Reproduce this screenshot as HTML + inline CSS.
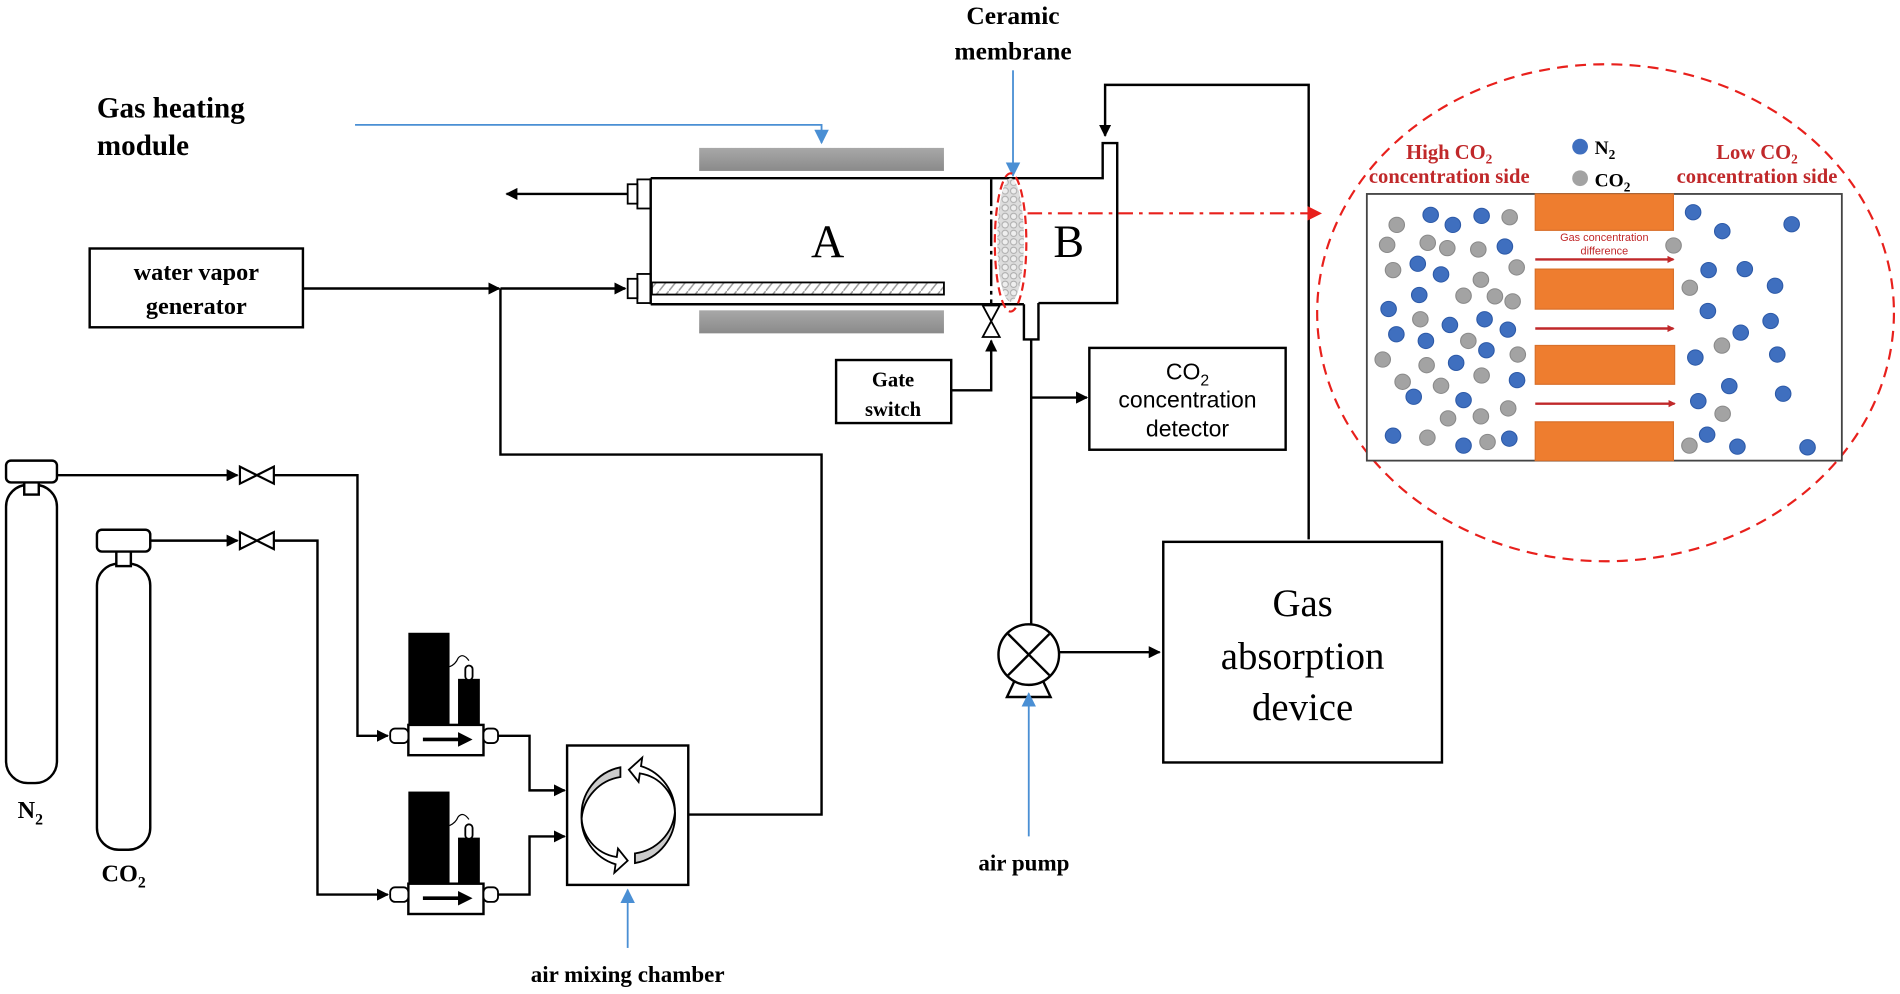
<!DOCTYPE html>
<html><head><meta charset="utf-8"><style>
html,body{margin:0;padding:0;background:#fff}
svg{display:block}
.sb{font-family:"Liberation Serif",serif;font-weight:bold;fill:#000}
</style></head><body>
<svg width="1900" height="994" viewBox="0 0 1568 820" preserveAspectRatio="none" xmlns="http://www.w3.org/2000/svg">
<defs>
<marker id="ak" markerWidth="10" markerHeight="10" refX="9" refY="5" orient="auto" markerUnits="userSpaceOnUse"><path d="M0,0 L10,5 L0,10 z" fill="#000"/></marker>
<marker id="ab" markerWidth="12" markerHeight="12" refX="11" refY="6" orient="auto" markerUnits="userSpaceOnUse"><path d="M0,0 L12,6 L0,12 z" fill="#4a8fd4"/></marker>
<marker id="ar" markerWidth="12" markerHeight="12" refX="11" refY="6" orient="auto" markerUnits="userSpaceOnUse"><path d="M0,0 L12,6 L0,12 z" fill="#e8201c"/></marker>
<marker id="ar2" markerWidth="6" markerHeight="6" refX="5" refY="3" orient="auto" markerUnits="userSpaceOnUse"><path d="M0,0 L6,3 L0,6 z" fill="#c0282a"/></marker>
<pattern id="hatch" width="8" height="10" patternUnits="userSpaceOnUse"><rect width="8" height="10" fill="#fff"/><path d="M0,10 L8,0" stroke="#999" stroke-width="1.2"/></pattern>
<pattern id="dots" width="7" height="7" patternUnits="userSpaceOnUse"><rect width="7" height="7" fill="#ddd"/><circle cx="3.5" cy="3.5" r="2.6" fill="#eee" stroke="#aaa" stroke-width="0.8"/></pattern>
<linearGradient id="gr" x1="0" y1="0" x2="0" y2="1"><stop offset="0" stop-color="#a8a8a8"/><stop offset="1" stop-color="#8a8a8a"/></linearGradient>
</defs>

<!-- labels -->
<text class="sb" x="80" y="97" font-size="24">Gas heating</text>
<text class="sb" x="80" y="128" font-size="24">module</text>
<polyline points="293,103 678,103 678,118" fill="none" stroke="#4a8fd4" stroke-width="1.5" marker-end="url(#ab)"/>
<text class="sb" x="836" y="20" font-size="21" text-anchor="middle">Ceramic</text>
<text class="sb" x="836" y="49" font-size="21" text-anchor="middle">membrane</text>
<line x1="836" y1="58" x2="836" y2="145" stroke="#4a8fd4" stroke-width="1.5" marker-end="url(#ab)"/>

<!-- heaters -->
<rect x="577" y="122" width="202" height="19" fill="url(#gr)"/>
<rect x="577" y="256" width="202" height="19" fill="url(#gr)"/>

<!-- reactor -->
<g stroke="#000" stroke-width="2" fill="none">
<polyline points="537,147 910,147 910,118 922,118 922,147 922,250 857,250"/>
<line x1="537" y1="147" x2="537" y2="251"/>
<line x1="537" y1="251" x2="845" y2="251"/>
<polyline points="845,251 845,280 857,280 857,250"/>
<line x1="818" y1="148" x2="818" y2="250" stroke-dasharray="22,4,3,4"/>
<rect x="518" y="152" width="8" height="16" stroke-width="1.5"/>
<rect x="526" y="148" width="11" height="24" stroke-width="1.5"/>
<rect x="518" y="230" width="8" height="16" stroke-width="1.5"/>
<rect x="526" y="226" width="11" height="24" stroke-width="1.5"/>
</g>
<rect x="538" y="233" width="241" height="10" fill="url(#hatch)" stroke="#000" stroke-width="1.5"/>
<ellipse cx="834" cy="198" rx="11" ry="51" fill="url(#dots)"/>
<ellipse cx="834" cy="200" rx="13" ry="57" fill="none" stroke="#e8201c" stroke-width="1.8" stroke-dasharray="7,4"/>
<text x="683" y="212" font-family="Liberation Serif,serif" font-size="38" text-anchor="middle">A</text>
<text x="882" y="212" font-family="Liberation Serif,serif" font-size="38" text-anchor="middle">B</text>
<line x1="518" y1="160" x2="418" y2="160" stroke="#000" stroke-width="2" marker-end="url(#ak)"/>
<!-- return line from absorption -->
<polyline points="1080,445 1080,70 912,70 912,112" fill="none" stroke="#000" stroke-width="2" marker-end="url(#ak)"/>

<!-- valve below membrane -->
<path d="M811,252 L825,252 L811,278 L825,278 Z" fill="#fff" stroke="#000" stroke-width="1.5"/>
<rect x="690" y="297" width="95" height="52" fill="#fff" stroke="#000" stroke-width="2"/>
<text class="sb" x="737" y="319" font-size="17" text-anchor="middle">Gate</text>
<text class="sb" x="737" y="343" font-size="17" text-anchor="middle">switch</text>
<polyline points="785,322 818,322 818,281" fill="none" stroke="#000" stroke-width="2" marker-end="url(#ak)"/>

<!-- water vapor -->
<rect x="74" y="205" width="176" height="65" fill="#fff" stroke="#000" stroke-width="2"/>
<text class="sb" x="162" y="231" font-size="20" text-anchor="middle">water vapor</text>
<text class="sb" x="162" y="259" font-size="20" text-anchor="middle">generator</text>
<line x1="250" y1="238" x2="412" y2="238" stroke="#000" stroke-width="2" marker-end="url(#ak)"/>
<line x1="413" y1="238" x2="516" y2="238" stroke="#000" stroke-width="2" marker-end="url(#ak)"/>
<polyline points="413,238 413,375 678,375 678,672 568,672" fill="none" stroke="#000" stroke-width="2"/>

<!-- detector line -->
<line x1="851" y1="280" x2="851" y2="515" stroke="#000" stroke-width="2"/>
<line x1="851" y1="328" x2="897" y2="328" stroke="#000" stroke-width="2" marker-end="url(#ak)"/>
<rect x="899" y="287" width="162" height="84" fill="#fff" stroke="#000" stroke-width="2"/>
<text x="980" y="313" font-family="Liberation Sans,sans-serif" font-size="19" text-anchor="middle">CO<tspan font-size="13" dy="5">2</tspan></text>
<text x="980" y="336" font-family="Liberation Sans,sans-serif" font-size="19" text-anchor="middle">concentration</text>
<text x="980" y="360" font-family="Liberation Sans,sans-serif" font-size="19" text-anchor="middle">detector</text>

<!-- pump -->
<path d="M831,575 L839,558 L859,558 L867,575 Z" fill="#fff" stroke="#000" stroke-width="2"/>
<circle cx="849" cy="540" r="25" fill="#fff" stroke="#000" stroke-width="2"/>
<line x1="832" y1="523" x2="866" y2="557" stroke="#000" stroke-width="2"/>
<line x1="866" y1="523" x2="832" y2="557" stroke="#000" stroke-width="2"/>
<line x1="874" y1="538" x2="957" y2="538" stroke="#000" stroke-width="2" marker-end="url(#ak)"/>
<line x1="849" y1="690" x2="849" y2="572" stroke="#4a8fd4" stroke-width="1.5" marker-end="url(#ab)"/>
<text class="sb" x="845" y="718" font-size="19" text-anchor="middle">air pump</text>
<rect x="960" y="447" width="230" height="182" fill="#fff" stroke="#000" stroke-width="2"/>
<text x="1075" y="508" font-family="Liberation Serif,serif" font-size="32" text-anchor="middle">Gas</text>
<text x="1075" y="552" font-family="Liberation Serif,serif" font-size="32" text-anchor="middle">absorption</text>
<text x="1075" y="594" font-family="Liberation Serif,serif" font-size="32" text-anchor="middle">device</text>

<!-- red dash-dot -->
<line x1="848" y1="176" x2="1090" y2="176" stroke="#e8201c" stroke-width="1.8" stroke-dasharray="12,5,3,5" marker-end="url(#ar)"/>
<ellipse cx="1325" cy="258" rx="238" ry="205" fill="none" stroke="#e8201c" stroke-width="1.8" stroke-dasharray="9,6"/>

<!-- inset -->
<rect x="1128" y="160" width="392" height="220" fill="#fff" stroke="#444" stroke-width="1.5"/>
<g fill="#ee7d2f" stroke="#d9702a" stroke-width="1">
<rect x="1267" y="160" width="114" height="30"/>
<rect x="1267" y="222" width="114" height="33"/>
<rect x="1267" y="285" width="115" height="32"/>
<rect x="1267" y="348" width="114" height="32"/>
</g>
<g stroke="#c0282a" stroke-width="2">
<line x1="1267" y1="214" x2="1381" y2="214" marker-end="url(#ar2)"/>
<line x1="1267" y1="271" x2="1381" y2="271" marker-end="url(#ar2)"/>
<line x1="1267" y1="333" x2="1382" y2="333" marker-end="url(#ar2)"/>
</g>
<text x="1324" y="199" font-family="Liberation Sans,sans-serif" font-size="9" fill="#c0282a" text-anchor="middle">Gas concentration</text>
<text x="1324" y="210" font-family="Liberation Sans,sans-serif" font-size="9" fill="#c0282a" text-anchor="middle">difference</text>
<g transform="translate(1128,160) scale(0.3046,0.2743) translate(-125,-220)">
<g fill="#3f6fbf" stroke="#2d5aa8" stroke-width="3">
<ellipse cx="298" cy="283" rx="21" ry="23"/><ellipse cx="358" cy="313" rx="21" ry="23"/><ellipse cx="436" cy="286" rx="21" ry="23"/><ellipse cx="499" cy="378" rx="21" ry="23"/><ellipse cx="263" cy="430" rx="21" ry="23"/><ellipse cx="326" cy="462" rx="21" ry="23"/><ellipse cx="267" cy="524" rx="21" ry="23"/><ellipse cx="184" cy="566" rx="21" ry="23"/><ellipse cx="350" cy="614" rx="21" ry="23"/><ellipse cx="444" cy="597" rx="21" ry="23"/><ellipse cx="507" cy="628" rx="21" ry="23"/><ellipse cx="205" cy="642" rx="21" ry="23"/><ellipse cx="285" cy="662" rx="21" ry="23"/><ellipse cx="449" cy="690" rx="21" ry="23"/><ellipse cx="367" cy="728" rx="21" ry="23"/><ellipse cx="532" cy="780" rx="21" ry="23"/><ellipse cx="252" cy="830" rx="21" ry="23"/><ellipse cx="387" cy="840" rx="21" ry="23"/><ellipse cx="196" cy="947" rx="21" ry="23"/><ellipse cx="387" cy="977" rx="21" ry="23"/><ellipse cx="511" cy="956" rx="21" ry="23"/>
<ellipse cx="1009" cy="275" rx="21" ry="23"/><ellipse cx="1088" cy="332" rx="21" ry="23"/><ellipse cx="1276" cy="311" rx="21" ry="23"/><ellipse cx="1051" cy="449" rx="21" ry="23"/><ellipse cx="1149" cy="446" rx="21" ry="23"/><ellipse cx="1231" cy="496" rx="21" ry="23"/><ellipse cx="1049" cy="572" rx="21" ry="23"/><ellipse cx="1219" cy="602" rx="21" ry="23"/><ellipse cx="1138" cy="637" rx="21" ry="23"/><ellipse cx="1015" cy="712" rx="21" ry="23"/><ellipse cx="1237" cy="703" rx="21" ry="23"/><ellipse cx="1107" cy="798" rx="21" ry="23"/><ellipse cx="1023" cy="843" rx="21" ry="23"/><ellipse cx="1253" cy="821" rx="21" ry="23"/><ellipse cx="1047" cy="944" rx="21" ry="23"/><ellipse cx="1129" cy="980" rx="21" ry="23"/><ellipse cx="1319" cy="982" rx="21" ry="23"/>
</g>
<g fill="#a3a3a3" stroke="#8a8a8a" stroke-width="3">
<ellipse cx="206" cy="313" rx="21" ry="23"/><ellipse cx="512" cy="290" rx="21" ry="23"/><ellipse cx="180" cy="373" rx="21" ry="23"/><ellipse cx="290" cy="367" rx="21" ry="23"/><ellipse cx="343" cy="383" rx="21" ry="23"/><ellipse cx="427" cy="387" rx="21" ry="23"/><ellipse cx="196" cy="449" rx="21" ry="23"/><ellipse cx="531" cy="441" rx="21" ry="23"/><ellipse cx="434" cy="478" rx="21" ry="23"/><ellipse cx="387" cy="526" rx="21" ry="23"/><ellipse cx="472" cy="528" rx="21" ry="23"/><ellipse cx="520" cy="543" rx="21" ry="23"/><ellipse cx="270" cy="597" rx="21" ry="23"/><ellipse cx="400" cy="662" rx="21" ry="23"/><ellipse cx="168" cy="718" rx="21" ry="23"/><ellipse cx="534" cy="703" rx="21" ry="23"/><ellipse cx="287" cy="735" rx="21" ry="23"/><ellipse cx="436" cy="766" rx="21" ry="23"/><ellipse cx="222" cy="785" rx="21" ry="23"/><ellipse cx="326" cy="797" rx="21" ry="23"/><ellipse cx="508" cy="865" rx="21" ry="23"/><ellipse cx="345" cy="895" rx="21" ry="23"/><ellipse cx="434" cy="889" rx="21" ry="23"/><ellipse cx="289" cy="953" rx="21" ry="23"/><ellipse cx="452" cy="966" rx="21" ry="23"/>
<ellipse cx="956" cy="375" rx="21" ry="23"/><ellipse cx="1000" cy="502" rx="21" ry="23"/><ellipse cx="1087" cy="676" rx="21" ry="23"/><ellipse cx="1089" cy="881" rx="21" ry="23"/><ellipse cx="999" cy="977" rx="21" ry="23"/>
</g>
</g>
<text class="sb" x="1196" y="131" font-size="17" text-anchor="middle" style="fill:#c0282a">High CO<tspan font-size="11" dy="4">2</tspan></text>
<text class="sb" x="1196" y="151" font-size="17" text-anchor="middle" style="fill:#c0282a">concentration side</text>
<text class="sb" x="1450" y="131" font-size="17" text-anchor="middle" style="fill:#c0282a">Low CO<tspan font-size="11" dy="4">2</tspan></text>
<text class="sb" x="1450" y="151" font-size="17" text-anchor="middle" style="fill:#c0282a">concentration side</text>
<circle cx="1304" cy="121" r="6.5" fill="#3f6fbf"/>
<text class="sb" x="1316" y="127" font-size="16">N<tspan font-size="11" dy="4">2</tspan></text>
<circle cx="1304" cy="147" r="6.5" fill="#a3a3a3"/>
<text class="sb" x="1316" y="154" font-size="16">CO<tspan font-size="11" dy="4">2</tspan></text>

<!-- cylinders -->
<g stroke="#000" stroke-width="2" fill="#fff">
<rect x="5" y="400" width="42" height="246" rx="18"/>
<rect x="20" y="396" width="12" height="12"/>
<rect x="5" y="380" width="42" height="18" rx="4"/>
<rect x="80" y="465" width="44" height="236" rx="18"/>
<rect x="96" y="453" width="12" height="14"/>
<rect x="80" y="437" width="44" height="18" rx="4"/>
</g>
<text class="sb" x="25" y="675" font-size="20" text-anchor="middle">N<tspan font-size="13" dy="5">2</tspan></text>
<text class="sb" x="102" y="727" font-size="20" text-anchor="middle">CO<tspan font-size="13" dy="5">2</tspan></text>
<line x1="47" y1="392" x2="196" y2="392" stroke="#000" stroke-width="2" marker-end="url(#ak)"/>
<line x1="124" y1="446" x2="196" y2="446" stroke="#000" stroke-width="2" marker-end="url(#ak)"/>
<path d="M198,385 L198,399 L226,385 L226,399 Z" fill="#fff" stroke="#000" stroke-width="1.8"/>
<path d="M198,439 L198,453 L226,439 L226,453 Z" fill="#fff" stroke="#000" stroke-width="1.8"/>
<polyline points="226,392 295,392 295,607 320,607" fill="none" stroke="#000" stroke-width="2" marker-end="url(#ak)"/>
<polyline points="226,446 262,446 262,738 320,738" fill="none" stroke="#000" stroke-width="2" marker-end="url(#ak)"/>

<!-- MFCs -->
<g id="mfc">
<rect x="337" y="522" width="34" height="77" fill="#000"/>
<rect x="378" y="560" width="18" height="39" fill="#000"/>
<rect x="384" y="549" width="6" height="12" rx="3" fill="#fff" stroke="#000" stroke-width="1.5"/>
<path d="M371,550 Q376,548 378,543 Q382,538 387,545" fill="none" stroke="#000" stroke-width="1"/>
<rect x="337" y="598" width="62" height="25" fill="#fff" stroke="#000" stroke-width="2"/>
<rect x="322" y="601" width="15" height="12" rx="4" fill="#fff" stroke="#000" stroke-width="1.5"/>
<rect x="399" y="601" width="12" height="12" rx="4" fill="#fff" stroke="#000" stroke-width="1.5"/>
<line x1="349" y1="610" x2="380" y2="610" stroke="#000" stroke-width="3"/>
<path d="M378,604 L390,610 L378,616 Z" fill="#000"/>
</g>
<use href="#mfc" transform="translate(0,131)"/>
<polyline points="411,607 437,607 437,652 466,652" fill="none" stroke="#000" stroke-width="2" marker-end="url(#ak)"/>
<polyline points="411,738 437,738 437,690 466,690" fill="none" stroke="#000" stroke-width="2" marker-end="url(#ak)"/>

<!-- mixing chamber -->
<rect x="468" y="615" width="100" height="115" fill="#fff" stroke="#000" stroke-width="2"/>
<path d="M512,633 A40,40 0 0,0 480,675 A38,38 0 0,1 512,641 Z" fill="#ccc" stroke="#000" stroke-width="1.5"/>
<path d="M480,672 A40,40 0 0,0 508,713 L507,720 L518,710 L510,700 L509,707 A34,34 0 0,1 480,672 Z" fill="#fff" stroke="#000" stroke-width="1.5"/>
<path d="M524,712 A40,40 0 0,0 557,670 A38,38 0 0,1 524,704 Z" fill="#ccc" stroke="#000" stroke-width="1.5"/>
<path d="M557,672 A40,40 0 0,0 529,632 L530,625 L519,635 L527,645 L528,638 A34,34 0 0,1 557,672 Z" fill="#fff" stroke="#000" stroke-width="1.5"/>
<line x1="518" y1="782" x2="518" y2="734" stroke="#4a8fd4" stroke-width="1.5" marker-end="url(#ab)"/>
<text class="sb" x="518" y="810" font-size="19" text-anchor="middle">air mixing chamber</text>
</svg>
</body></html>
